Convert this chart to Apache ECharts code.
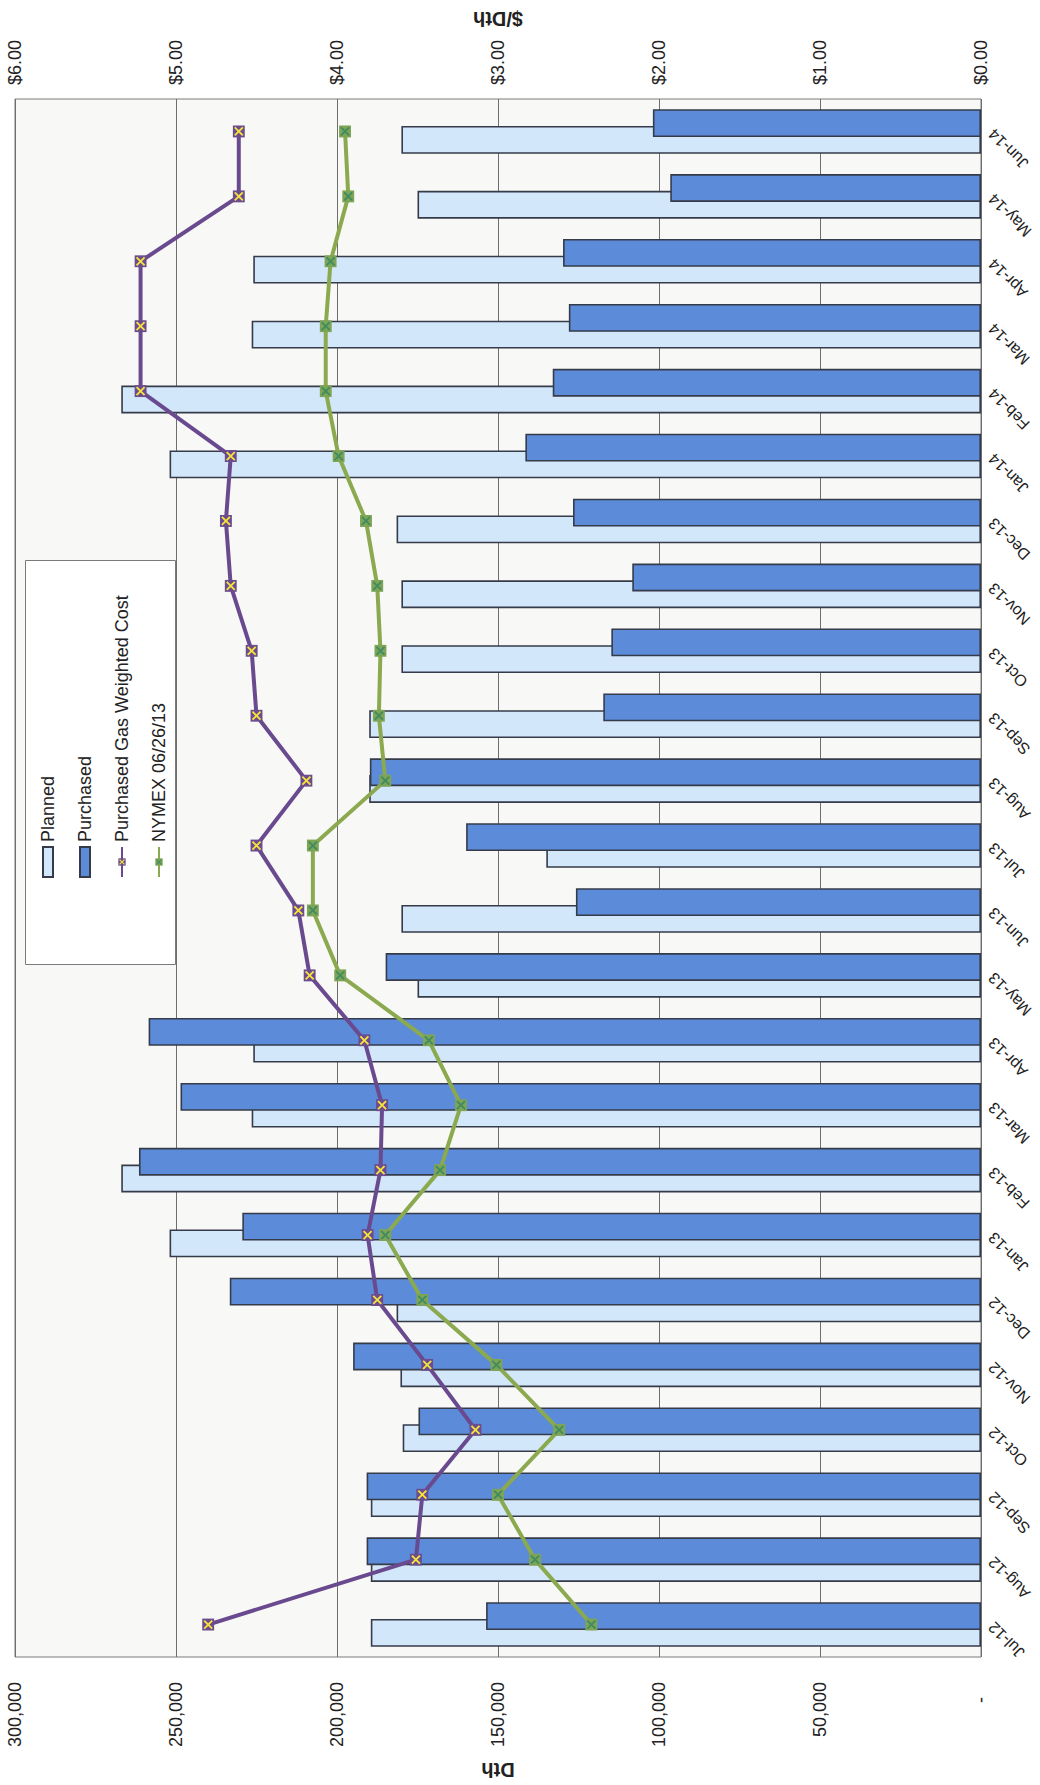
<!DOCTYPE html>
<html>
<head>
<meta charset="utf-8">
<title>Gas Purchases vs Plan</title>
<script src="https://cdn.jsdelivr.net/npm/echarts@6/dist/echarts.min.js"></script>
<style>
  html, body { margin: 0; padding: 0; background: #ffffff; overflow: hidden; }
  #page { position: relative; width: 1040px; height: 1785px; overflow: hidden; background: #ffffff; }
  /* the chart is laid out landscape and printed turned a quarter turn */
  #chart {
    position: absolute; left: 0; top: 0;
    width: 1785px; height: 1040px;
    transform-origin: 0 0;
    transform: translate(0, 1785px) rotate(-90deg);
  }
</style>
</head>
<body>
<div id="page"><div id="chart"></div></div>
<script>
// Monthly volumes (Dth) and prices ($/Dth), Jul-12 through Jun-14
const months = ['Jul-12','Aug-12','Sep-12','Oct-12','Nov-12','Dec-12','Jan-13','Feb-13','Mar-13','Apr-13','May-13','Jun-13',
                'Jul-13','Aug-13','Sep-13','Oct-13','Nov-13','Dec-13','Jan-14','Feb-14','Mar-14','Apr-14','May-14','Jun-14'];

const planned = [189500, 189500, 189500, 179600, 180300, 181500, 252000, 267000, 226500, 226000, 175000, 180000,
                 135000, 190000, 190000, 180000, 180000, 181500, 252000, 267000, 226500, 226000, 175000, 180000];

const purchased = [153700, 190800, 190800, 174700, 195000, 233300, 229400, 261500, 248600, 258500, 184900, 125800,
                   159900, 189800, 117300, 114800, 108300, 126700, 141500, 133000, 128000, 129800, 96500, 101900];

const weightedCost = [4.80, 3.51, 3.47, 3.14, 3.44, 3.75, 3.81, 3.73, 3.72, 3.83, 4.17, 4.24,
                      4.50, 4.19, 4.50, 4.53, 4.66, 4.69, 4.66, 5.22, 5.22, 5.22, 4.61, 4.61];

const nymex = [2.42, 2.77, 3.00, 2.62, 3.01, 3.47, 3.70, 3.36, 3.23, 3.43, 3.98, 4.15,
               4.15, 3.70, 3.74, 3.73, 3.75, 3.82, 3.99, 4.07, 4.07, 4.04, 3.93, 3.95];

const dthAxis = { min: 0, max: 300000, step: 50000 };
const priceAxis = { min: 0, max: 6, step: 1 };

const FONT = '"Liberation Sans", Arial, Helvetica, sans-serif';
const INK = '#222222';

// square marker with a cross through it
function crossMarker(fill, cross) {
  const svg = "<svg xmlns='http://www.w3.org/2000/svg' width='12' height='12' viewBox='0 0 12 12'>" +
    "<rect x='0.5' y='0.5' width='11' height='11' fill='" + fill + "'/>" +
    "<path d='M2.3 2.3L9.7 9.7M9.7 2.3L2.3 9.7' stroke='" + cross + "' stroke-width='1.7' fill='none'/></svg>";
  return 'image://data:image/svg+xml;charset=utf-8,' + encodeURIComponent(svg);
}

const chart = echarts.init(document.getElementById('chart'), null, { renderer: 'svg' });

const option = {
  backgroundColor: '#ffffff',
  animation: false,
  textStyle: { fontFamily: FONT, color: INK },
  grid: {
    left: 128, right: 99, top: 15, bottom: 59,
    show: true,
    backgroundColor: '#f8f8f6',
    borderColor: '#7a7a7a',
    borderWidth: 1,
    containLabel: false,
    outerBoundsMode: 'none'
  },
  graphic: [{
    type: 'rect',
    left: 820, top: 25, z: 1,
    shape: { width: 404, height: 150 },
    style: { fill: '#ffffff', stroke: '#7a7a7a', lineWidth: 1 }
  }],
  legend: {
    orient: 'vertical',
    left: 902, top: 33,
    itemWidth: 30, itemHeight: 10, itemGap: 17,
    z: 5,
    textStyle: { fontFamily: FONT, fontSize: 18, color: INK, lineHeight: 20 },
    data: [
      { name: 'Planned', icon: 'rect' },
      { name: 'Purchased', icon: 'rect' },
      { name: 'Purchased Gas Weighted Cost' },
      { name: 'NYMEX 06/26/13' }
    ]
  },
  xAxis: {
    type: 'category',
    data: months,
    boundaryGap: true,
    axisLine: { show: false },
    axisTick: { show: false },
    splitLine: { show: false },
    axisLabel: { rotate: 45, interval: 0, margin: 10, fontSize: 16, color: INK, fontFamily: FONT }
  },
  yAxis: [
    {
      type: 'value',
      min: dthAxis.min, max: dthAxis.max, interval: dthAxis.step,
      name: 'Dth',
      nameLocation: 'middle',
      nameRotate: 90,
      nameGap: 103,
      nameTextStyle: { fontWeight: 'bold', fontSize: 20, color: INK, fontFamily: FONT },
      axisLine: { show: false },
      axisTick: { show: false },
      splitLine: { show: true, lineStyle: { color: '#6e6e6e', width: 1 } },
      axisLabel: {
        margin: 25, fontSize: 18, color: INK, fontFamily: FONT,
        formatter: v => v === 0 ? '-   ' : v.toLocaleString('en-US')
      }
    },
    {
      type: 'value',
      position: 'right',
      min: priceAxis.min, max: priceAxis.max, interval: priceAxis.step,
      name: '$/Dth',
      nameLocation: 'middle',
      nameRotate: 90,
      nameGap: 70,
      nameTextStyle: { fontWeight: 'bold', fontSize: 20, color: INK, fontFamily: FONT },
      axisLine: { show: false },
      axisTick: { show: false },
      splitLine: { show: false },
      axisLabel: {
        margin: 14, fontSize: 18, color: INK, fontFamily: FONT,
        formatter: v => '$' + v.toFixed(2)
      }
    }
  ],
  series: [
    {
      name: 'Planned',
      type: 'bar',
      yAxisIndex: 0,
      data: planned,
      barWidth: '43%',
      barGap: '-40%',
      itemStyle: { color: '#d2e7f9', borderColor: '#363b4a', borderWidth: 1.6 },
      z: 2
    },
    {
      name: 'Purchased',
      type: 'bar',
      yAxisIndex: 0,
      data: purchased,
      barWidth: '43%',
      barGap: '-40%',
      itemStyle: { color: '#5b8bd9', borderColor: '#363b4a', borderWidth: 1.6 },
      z: 2
    },
    {
      name: 'Purchased Gas Weighted Cost',
      type: 'line',
      yAxisIndex: 1,
      data: weightedCost,
      symbol: crossMarker('#6b4d8f', '#f6e43a'),
      symbolSize: 13,
      lineStyle: { color: '#6a4a8e', width: 4 },
      itemStyle: { color: '#6a4a8e' },
      z: 4
    },
    {
      name: 'NYMEX 06/26/13',
      type: 'line',
      yAxisIndex: 1,
      data: nymex,
      symbol: crossMarker('#7ea456', '#3f8c60'),
      symbolSize: 13,
      lineStyle: { color: '#8ba94f', width: 4 },
      itemStyle: { color: '#8ba94f' },
      z: 4
    }
  ]
};

chart.setOption(option);
</script>
</body>
</html>
